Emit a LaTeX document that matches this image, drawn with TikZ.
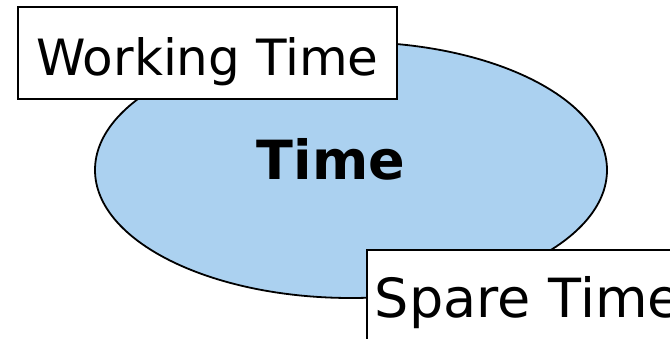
\documentclass[tikz,border=0pt]{standalone}
\usepackage{fontspec}
\setmainfont{DejaVu Sans}
\usetikzlibrary{shapes.geometric}
\definecolor{timeblue}{RGB}{171,209,240}
\begin{document}
\begin{tikzpicture}[x=1pt, y=-1pt,
                label box/.style = {draw, fill=white, line width=1.8pt, font=\fontsize{50}{60}\selectfont,
                                   text height=46pt, text depth=0pt}
                ]
                \useasboundingbox (0,0) rectangle (670,339);
                \node[ellipse, draw, line width=1.8pt, fill=timeblue, minimum width=512pt, minimum height=256pt] (time) at (351,170) {};
                \node[anchor=base, font=\fontsize{54}{60}\selectfont\bfseries] (timelabel) at (331,180) {Time};
                \node[label box, minimum width=379pt, minimum height=92pt] (working) at (207.5,53) {Working Time};
                \node[label box, anchor=north west, text width=400pt, align=left, inner xsep=8pt,
                      font=\fontsize{54}{60}\selectfont, text height=40pt, minimum height=96pt] (spare) at (366,249) {Spare Time};
\end{tikzpicture}
\end{document}
